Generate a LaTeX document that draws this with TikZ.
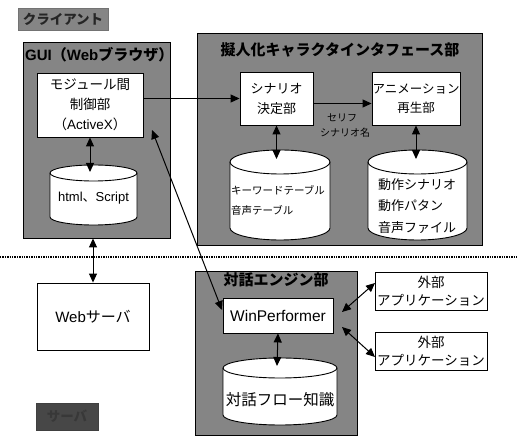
\documentclass[tikz,border=0pt]{standalone}
\usepackage{fontspec}
\setmainfont{Noto Sans CJK JP}
\newfontfamily\LSf{Liberation Sans}
\newcommand{\LS}[1]{{\LSf #1}}
\usetikzlibrary{arrows.meta}
\newcommand{\dbcyl}[5]{%
  \draw[line width=0.9pt, fill=white] (#1,#4-#5) -- (#1,#3+#5)
    arc[start angle=180,end angle=360,x radius={(#2-#1)/2},y radius=#5]
    -- (#2,#4-#5)
    arc[start angle=0,end angle=180,x radius={(#2-#1)/2},y radius=#5] -- cycle;
  \draw[line width=0.9pt] (#1,#4-#5)
    arc[start angle=180,end angle=360,x radius={(#2-#1)/2},y radius=#5];}
\begin{document}
\begin{tikzpicture}[x=1pt,y=1pt,
  panel/.style={draw=black, line width=0.9pt, fill=black!48},
  wbox/.style={draw=black, line width=0.9pt, fill=white, align=center, inner sep=0pt},
  arr/.style={-{Triangle[length=9pt,width=8pt]}, line width=1pt},
  darr/.style={{Triangle[length=9pt,width=8pt]}-{Triangle[length=9pt,width=8pt]}, line width=1pt},
  ttl/.style={font=\bfseries\fontsize{15}{17}\selectfont},
  txt/.style={font=\fontsize{12.5}{19}\selectfont},
  ctxt/.style={font=\fontsize{13}{21.5}\selectfont, align=left, inner sep=0pt},
  small/.style={font=\fontsize{10}{12}\selectfont, inner sep=0pt}
]
\useasboundingbox (0,0) rectangle (517,436);

% labels
\node[fill=black!48, draw=black!55, minimum width=90pt, minimum height=22pt, inner sep=0pt, font=\bfseries\fontsize{13.5}{15}\selectfont, text=black!85] (client) at (63,417) {クライアント};
\node[fill=black!72, draw=black!75, minimum width=62pt, minimum height=27pt, inner sep=0pt, font=\bfseries\fontsize{13.5}{15}\selectfont, text=black!78] (server) at (67,19.5) {サーバ};

% dotted separator
\coordinate (dl) at (0,179);
\coordinate (dr) at (517,179);
\draw[line width=1.4pt, densely dotted] (dl) -- (dr);

% GUI panel
\node[panel, minimum width=147pt, minimum height=196pt] (gui) at (96.5,296) {};
\node[ttl, anchor=west, inner sep=0pt] (guit) at (25,381) {\LS{\bfseries GUI}（\LS{\bfseries Web}ブラウザ）};
\node[wbox, font=\fontsize{13.5}{20}\selectfont, minimum width=106pt, minimum height=64pt] (module) at (90,331) {モジュール間\\制御部\\（\LS{ActiveX}）};
\dbcyl{50}{137}{211}{271}{8}
\node[font=\fontsize{13}{15}\selectfont, inner sep=0pt] (html) at (93.5,238) {\LS{html}、\LS{Script}};
\coordinate (htmltop) at (90,264);

% Character interface panel
\node[panel, minimum width=285pt, minimum height=212pt] (chara) at (339.5,297) {};
\node[ttl, inner sep=0pt] (charat) at (340,386) {擬人化キャラクタインタフェース部};
\node[wbox, font=\fontsize{13}{20}\selectfont, minimum width=73pt, minimum height=53pt] (scen) at (276.5,337.5) {シナリオ\\決定部};
\node[wbox, txt, minimum width=88pt, minimum height=53pt] (anim) at (416,337.5) {アニメーション\\再生部};
\dbcyl{230}{330}{196}{286}{12}
\node[ctxt, font=\fontsize{10.5}{20}\selectfont] (kw) at (278,236) {キーワードテーブル\\音声テーブル};
\coordinate (kwtop) at (276.5,277);
\dbcyl{368}{467}{196}{286}{12}
\node[ctxt] (dousa) at (417,230) {動作シナリオ\\動作パタン\\音声ファイル};
\coordinate (dousatop) at (416,277);
\node[small] (serif) at (342,318) {セリフ};
\node[small] (scname) at (345,303) {シナリオ名};

% Web server
\node[wbox, font=\fontsize{15}{17}\selectfont, minimum width=112pt, minimum height=67pt] (web) at (93,119.5) {\LS{Web}サーバ};

% Dialogue engine panel
\node[panel, minimum width=162pt, minimum height=164pt] (dlg) at (276,83) {};
\node[ttl, inner sep=0pt] (dlgt) at (276,156) {対話エンジン部};
\node[wbox, font=\fontsize{15.5}{17}\selectfont, minimum width=110pt, minimum height=35pt] (wp) at (278,120.5) {\LS{WinPerformer}};
\dbcyl{223}{337}{11}{78}{10}
\node[font=\fontsize{15.5}{17}\selectfont, inner sep=0pt] (flow) at (280,36) {対話フロー知識};
\coordinate (flowtop) at (277,70);

% External applications
\node[wbox, font=\fontsize{13.5}{18}\selectfont, minimum width=112pt, minimum height=38pt] (ext1) at (431,145) {外部\\アプリケーション};
\node[wbox, font=\fontsize{13.5}{18}\selectfont, minimum width=112pt, minimum height=38pt] (ext2) at (431,85) {外部\\アプリケーション};

% connectors
\draw[arr] (module.east |- scen.west) -- (scen.west);
\draw[arr] ([yshift=-5pt]scen.east) -- ([yshift=-5pt]anim.west);
\draw[darr] (module.south) -- (htmltop);
\draw[darr] (scen.south) -- (kwtop);
\draw[darr] (anim.south) -- (dousatop);
\draw[darr] (web.north |- gui.south) -- (web.north);
\coordinate (a1) at (152,306);
\coordinate (a2) at (222,126);
\draw[darr] (a1) -- (a2);
\draw[darr] (wp.south) -- (flowtop);
\coordinate (e1s) at (342,124);
\coordinate (e1t) at (375,153);
\coordinate (e2s) at (342,109);
\coordinate (e2t) at (375,79);
\draw[darr] (e1s) -- (e1t);
\draw[darr] (e2s) -- (e2t);
\end{tikzpicture}
\end{document}
